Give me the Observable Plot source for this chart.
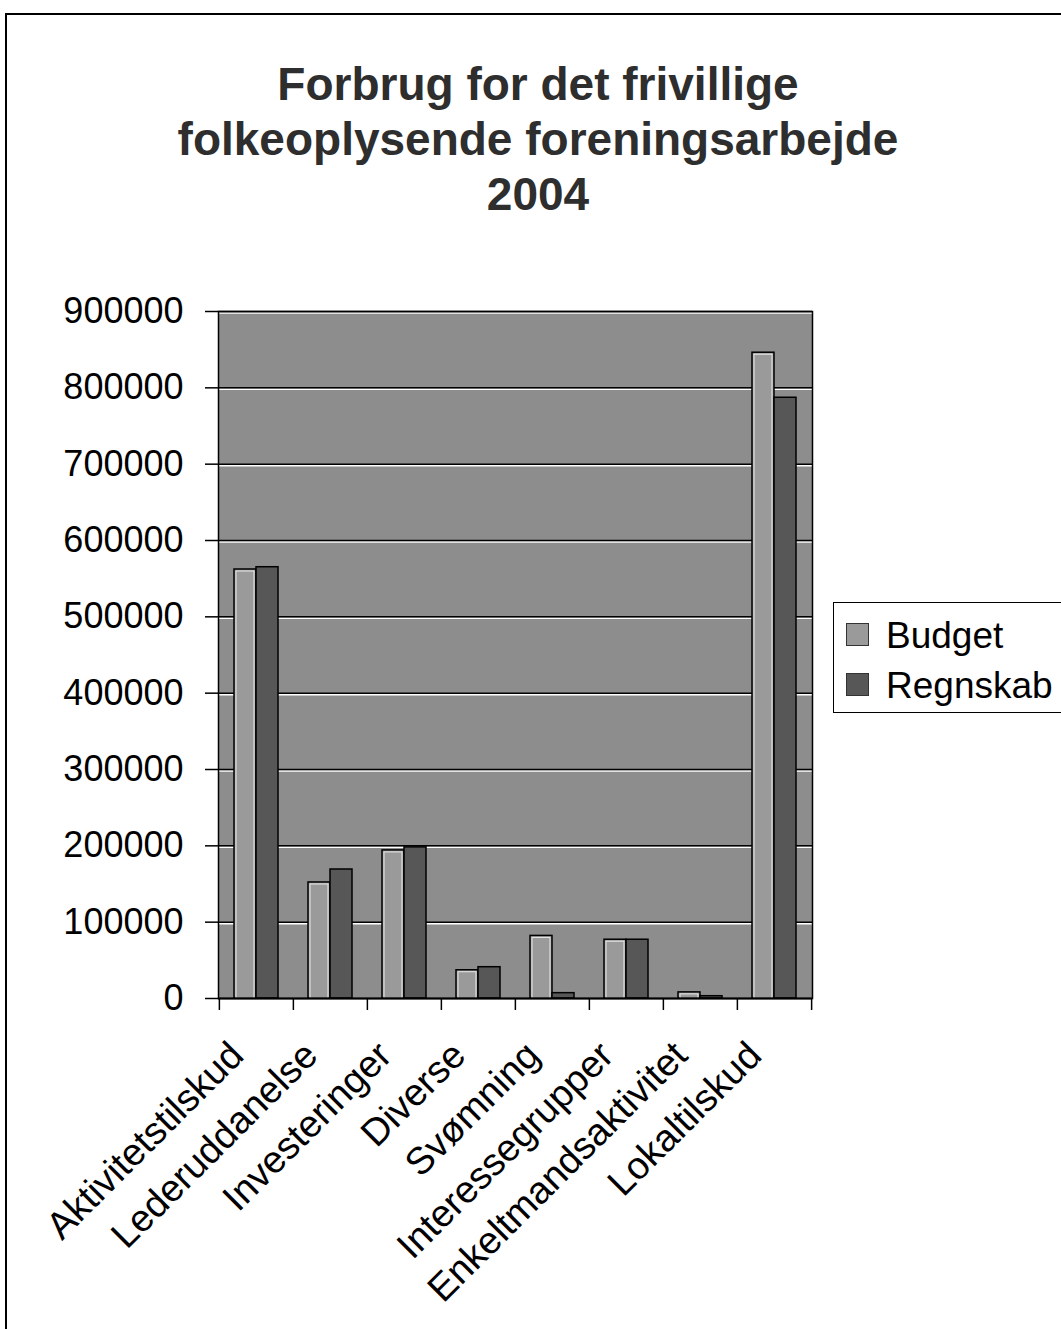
<!DOCTYPE html>
<html>
<head>
<meta charset="utf-8">
<script src="https://cdn.jsdelivr.net/npm/d3@7"></script>
<script src="https://cdn.jsdelivr.net/npm/@observablehq/plot@0.6"></script>
<style>
  html, body { margin: 0; padding: 0; background: #fff; overflow: hidden; }
  #page { position: relative; width: 1061px; height: 1329px; overflow: hidden; font-family: "Liberation Sans", Arial, sans-serif; }
  #chart { position: absolute; left: 0; top: 0; }
  #border { position: absolute; left: 5px; top: 13px; width: 1200px; height: 1400px; border-left: 2px solid #000; border-top: 2px solid #000; }
  #title { position: absolute; left: 138px; width: 800px; top: 57px; text-align: center; font-weight: bold; font-size: 46px; line-height: 55px; color: #2e2e2e; }
  #legend { position: absolute; left: 833px; top: 602px; width: 260px; height: 109px; border: 1.5px solid #000; background: #fff; }
  .sw { position: absolute; left: 12px; width: 23px; height: 23px; box-sizing: border-box; border: 1px solid #333; }
  .lt { position: absolute; left: 52px; font-size: 37px; line-height: 37px; color: #000; white-space: nowrap; }
</style>
</head>
<body>
<div id="page">
  <div id="border"></div>
  <div id="chart"></div>
  <div id="title"></div>
  <div id="legend"></div>
</div>
<script>
// ---- data ----
const titleLines = ["Forbrug for det frivillige", "folkeoplysende foreningsarbejde", "2004"];
const categories = ["Aktivitetstilskud", "Lederuddanelse", "Investeringer", "Diverse", "Svømning", "Interessegrupper", "Enkeltmandsaktivitet", "Lokaltilskud"];
const budget   = [562000, 152000, 194000, 37000, 82000, 77000, 8000, 846000];
const regnskab = [565000, 169000, 198000, 41000, 7000, 77000, 3000, 787000];
const seriesNames = ["Budget", "Regnskab"];
const yTicks = [0, 100000, 200000, 300000, 400000, 500000, 600000, 700000, 800000, 900000];

// ---- styling / layout ----
const colors = {Budget: "#9a9a9a", Regnskab: "#575757"};
const plotBg = "#8d8d8d";
const W = 1061, H = 1329, ML = 218, MR = 249, MT = 311, MB = 331;
const padInner = 0.407;
const step = (W - ML - MR) / categories.length;
const bandW = step * (1 - padInner);

const rows = categories.flatMap((c, i) => [
  {category: c, series: "Budget", value: budget[i]},
  {category: c, series: "Regnskab", value: regnskab[i]}
]);
const budgetRows = rows.filter(d => d.series === "Budget");
const regnskabRows = rows.filter(d => d.series === "Regnskab");

const chart = Plot.plot({
  width: W, height: H,
  marginLeft: ML, marginRight: MR, marginTop: MT, marginBottom: MB,
  style: {fontFamily: '"Liberation Sans", Arial, sans-serif', background: "transparent", color: "#000"},
  x: {domain: categories, paddingInner: padInner, paddingOuter: padInner / 2},
  y: {domain: [0, 900000]},
  marks: [
    Plot.frame({fill: plotBg, stroke: null}),
    Plot.ruleY(yTicks.slice(1), {stroke: "#ffffff", strokeWidth: 1.5, dy: 1.5}),
    Plot.ruleY(yTicks.slice(1), {stroke: "#000", strokeWidth: 1.5}),
    Plot.barY(budgetRows, {x: "category", y: "value", fill: colors.Budget, stroke: "#000", strokeWidth: 1.5, insetRight: bandW / 2}),
    Plot.barY(budgetRows, {x: "category", y: "value", fill: "none", stroke: "#e8e8e8", strokeWidth: 1, insetRight: bandW / 2 + 2, insetLeft: 2, insetTop: 2}),
    Plot.barY(regnskabRows, {x: "category", y: "value", fill: colors.Regnskab, stroke: "#000", strokeWidth: 1.5, insetLeft: bandW / 2}),
    Plot.frame({stroke: "#000", strokeWidth: 1.5}),
    Plot.ruleY([0], {stroke: "#000", strokeWidth: 2}),
    Plot.axisY({ticks: yTicks, tickSize: 13, tickPadding: 22, fontSize: 36, tickFormat: d3.format("d"), label: null, strokeWidth: 1.5}),
    Plot.axisX({tickSize: 12, fill: "none", dx: -step / 2, label: null, strokeWidth: 1.5}),
    Plot.axisX({ticks: [categories[categories.length - 1]], tickSize: 12, fill: "none", dx: step / 2, label: null, strokeWidth: 1.5}),
    Plot.text(categories, {
      x: d => d, frameAnchor: "bottom", rotate: -45, textAnchor: "end", lineAnchor: "top",
      fontSize: 38, dx: -30, dy: 40, fill: "#000"
    })
  ]
});
document.getElementById("chart").appendChild(chart);

// ---- title ----
document.getElementById("title").innerHTML = titleLines.map(t => `<div>${t}</div>`).join("");

// ---- legend ----
const legend = document.getElementById("legend");
seriesNames.forEach((s, i) => {
  const sw = document.createElement("div");
  sw.className = "sw";
  sw.style.top = (20 + i * 50) + "px";
  sw.style.background = colors[s];
  legend.appendChild(sw);
  const t = document.createElement("div");
  t.className = "lt";
  t.style.top = (14 + i * 50) + "px";
  t.textContent = s;
  legend.appendChild(t);
});
</script>
</body>
</html>
